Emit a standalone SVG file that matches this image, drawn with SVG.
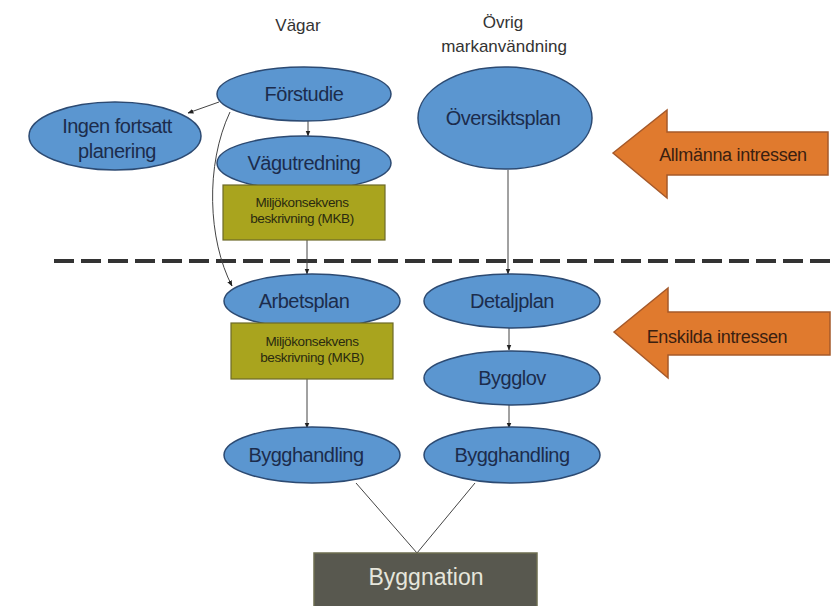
<svg xmlns="http://www.w3.org/2000/svg" width="837" height="606" viewBox="0 0 837 606">
<defs>
<style>
.node ellipse{fill:#5b96d0;stroke:#2c4a72;stroke-width:1.5}
.node text{font-family:"Liberation Sans",Arial,sans-serif;fill:#1c2c4c;text-anchor:middle;font-size:20px;letter-spacing:-0.5px}
.mkb rect{fill:#a9a41e;stroke:#6d6a28;stroke-width:1.2}
.mkb text{font-family:"Liberation Sans",Arial,sans-serif;fill:#2a2a10;text-anchor:middle;font-size:13.5px;letter-spacing:-0.4px}
.hdr{font-family:"Liberation Sans",Arial,sans-serif;fill:#333;text-anchor:middle;font-size:17px}
.big path{fill:#e07a2e;stroke:#a5592a;stroke-width:1.5}
.big text{font-family:"Liberation Sans",Arial,sans-serif;fill:#3a2010;text-anchor:middle;font-size:18px;letter-spacing:-0.3px}
.conn line,.conn path{stroke:#444;stroke-width:1;fill:none}
</style>
<marker id="ah" viewBox="0 0 10 10" refX="9" refY="5" markerWidth="6" markerHeight="6" orient="auto-start-reverse">
<path d="M0,1 L10,5 L0,9 z" fill="#222"/>
</marker>
</defs>
<rect width="837" height="606" fill="#fff"/>

<text class="hdr" x="298" y="31">Vägar</text>
<text class="hdr" x="503" y="28">Övrig</text>
<text class="hdr" x="504" y="52">markanvändning</text>

<line x1="54" y1="261" x2="837" y2="261" stroke="#333" stroke-width="4" stroke-dasharray="20 7"/>

<g id="connectors" class="conn">
<line x1="219" y1="102" x2="188" y2="113" marker-end="url(#ah)"/>
<line x1="308" y1="121" x2="308" y2="136" marker-end="url(#ah)"/>
<path d="M230,112 C205,165 208,240 232,286" marker-end="url(#ah)"/>
<line x1="307" y1="240" x2="307" y2="274" marker-end="url(#ah)"/>
<line x1="508" y1="170" x2="508" y2="274" stroke="#888" marker-end="url(#ah)"/>
<line x1="509" y1="328" x2="509" y2="350" marker-end="url(#ah)"/>
<line x1="307" y1="379" x2="307" y2="428" marker-end="url(#ah)"/>
<line x1="509" y1="405" x2="509" y2="428" marker-end="url(#ah)"/>
<line x1="356" y1="483" x2="417" y2="553" stroke="#555" stroke-width="1.5"/>
<line x1="475" y1="483" x2="417" y2="553" stroke="#555" stroke-width="1.5"/>
</g>

<g id="forstudie" class="node"><ellipse cx="304" cy="94" rx="87" ry="27"/><text x="304" y="101">Förstudie</text></g>
<g id="ingen" class="node"><ellipse cx="115" cy="136" rx="86" ry="34"/><text x="117" y="133">Ingen fortsatt</text><text x="117" y="158">planering</text></g>
<g id="vagutredning" class="node"><ellipse cx="304" cy="163" rx="87" ry="27"/><text x="304" y="170">Vägutredning</text></g>
<g id="mkb1" class="mkb"><rect x="223" y="185" width="162" height="55"/><text x="302" y="207">Miljökonsekvens</text><text x="302" y="223">beskrivning (MKB)</text></g>
<g id="oversiktsplan" class="node"><ellipse cx="505" cy="118" rx="87" ry="51"/><text x="503" y="125">Översiktsplan</text></g>
<g id="allmanna" class="big"><path d="M613,153 L667,110 L667,132 L828,132 L828,175 L667,175 L667,198 Z"/><text x="733" y="161">Allmänna intressen</text></g>

<g id="arbetsplan" class="node"><ellipse cx="312" cy="301" rx="88" ry="27"/><text x="304" y="308">Arbetsplan</text></g>
<g id="mkb2" class="mkb"><rect x="231" y="323" width="162" height="56"/><text x="312" y="346">Miljökonsekvens</text><text x="312" y="362">beskrivning (MKB)</text></g>
<g id="detaljplan" class="node"><ellipse cx="512" cy="301" rx="88" ry="27"/><text x="512" y="308">Detaljplan</text></g>
<g id="bygglov" class="node"><ellipse cx="512" cy="378" rx="88" ry="27"/><text x="512" y="385">Bygglov</text></g>
<g id="enskilda" class="big"><path d="M614,332 L668,288 L668,312 L830,312 L830,355 L668,355 L668,378 Z"/><text x="717" y="343">Enskilda intressen</text></g>
<g id="bygghandling1" class="node"><ellipse cx="312" cy="455" rx="88" ry="28"/><text x="306" y="462">Bygghandling</text></g>
<g id="bygghandling2" class="node"><ellipse cx="512" cy="455" rx="88" ry="28"/><text x="512" y="462">Bygghandling</text></g>
<g id="byggnation"><rect x="314" y="553" width="223" height="60" fill="#58584f" stroke="#6e6e50" stroke-width="1.5"/><text x="426" y="585" font-family="'Liberation Sans',Arial,sans-serif" font-size="23" fill="#e6e6dc" text-anchor="middle">Byggnation</text></g>
</svg>
